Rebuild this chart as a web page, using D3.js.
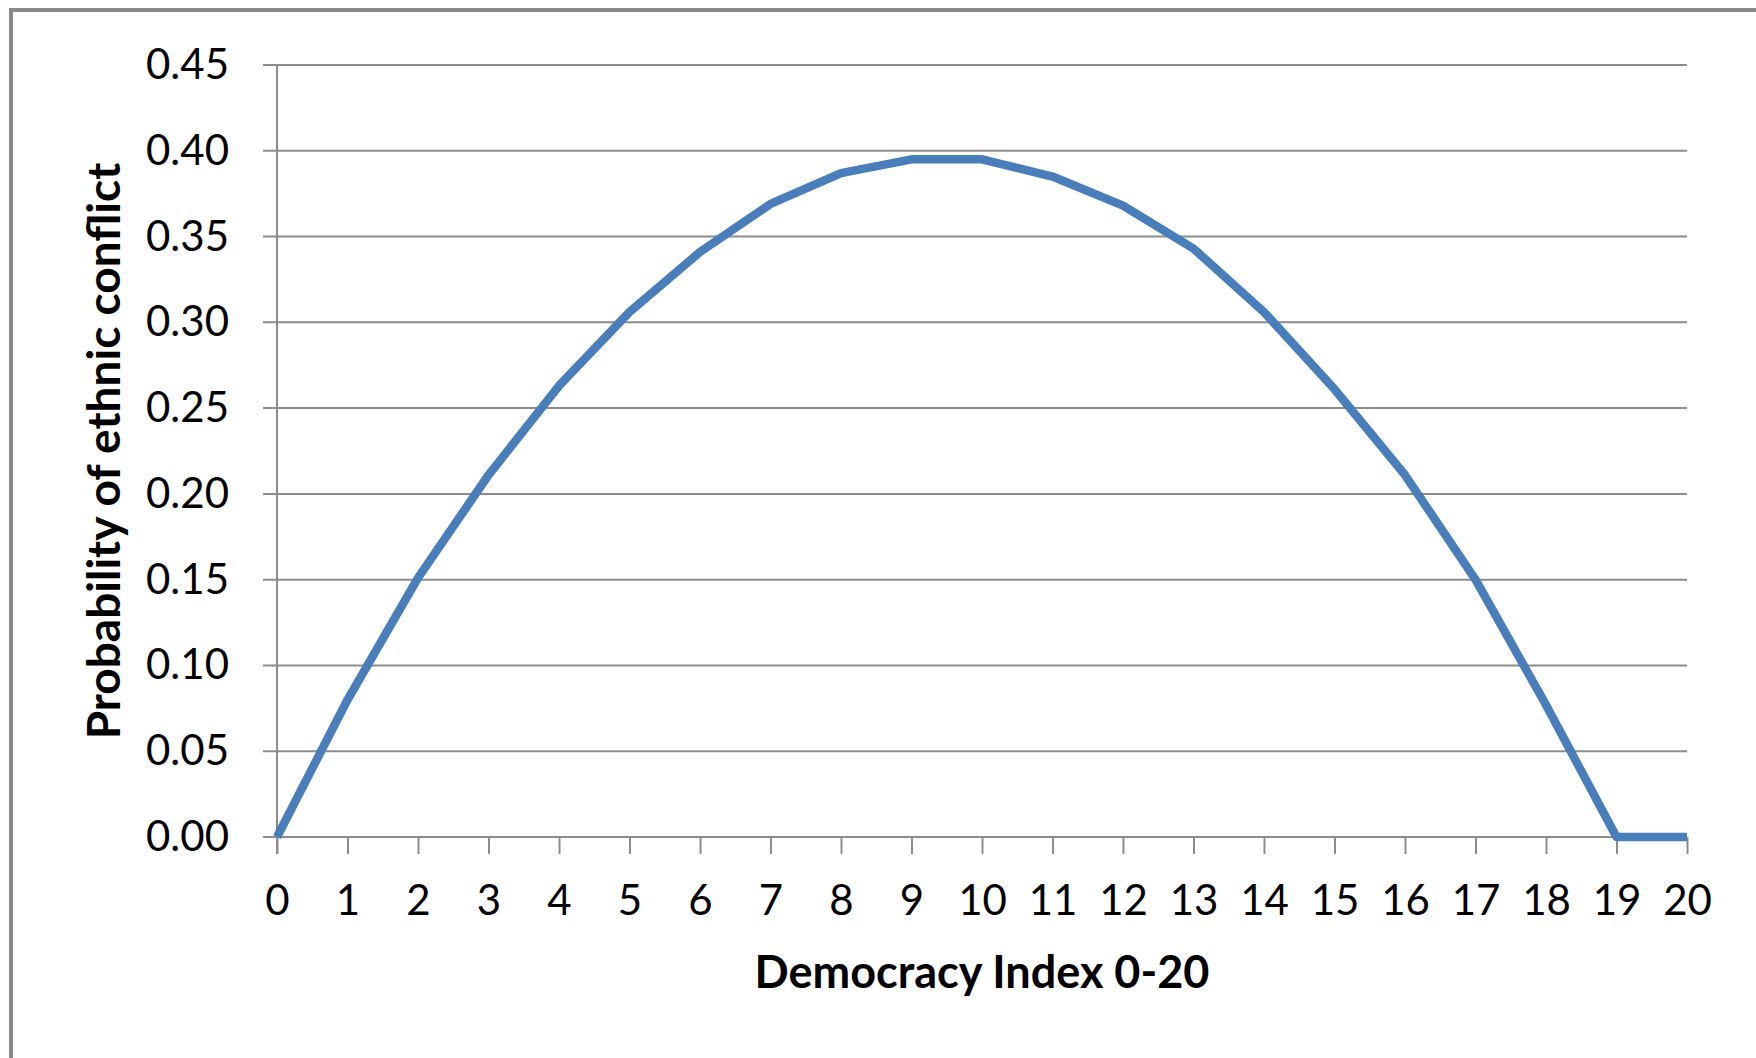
<!DOCTYPE html>
<html>
<head>
<meta charset="utf-8">
<script src="https://cdn.jsdelivr.net/npm/d3@7"></script>
<style>
  body { margin: 0; background: #fff; }
  text { font-family: Lato, "Noto Sans", sans-serif; fill: #000; }
</style>
</head>
<body>
<div id="chart"></div>
<script>
// democracy index 0-20
var xCats = [0, 1, 2, 3, 4, 5, 6, 7, 8, 9, 10, 11, 12, 13, 14, 15, 16, 17, 18, 19, 20];
// probability of ethnic conflict
var probValues = [0, 0.080, 0.151, 0.211, 0.263, 0.306, 0.341, 0.369, 0.387, 0.395, 0.395,
                  0.385, 0.368, 0.343, 0.306, 0.261, 0.211, 0.150, 0.077, 0, 0];
var yTicks = [0, 0.05, 0.10, 0.15, 0.20, 0.25, 0.30, 0.35, 0.40, 0.45];

var xTitle = "Democracy Index 0-20";
var yTitle = "Probability of ethnic conflict";

var W = 1756, H = 1058;
var margin = {top: 65, right: 69, bottom: 221, left: 277};
var width = W - margin.left - margin.right,
    height = H - margin.top - margin.bottom;

var svg = d3.select("#chart")
  .append("svg")
  .attr("width", W)
  .attr("height", H);

svg.append("rect")
  .attr("width", W).attr("height", H)
  .attr("fill", "#fff");

// outer frame, only top and left edge are in view
svg.append("rect")
  .attr("x", 11).attr("y", 10)
  .attr("width", W + 50).attr("height", H + 50)
  .attr("fill", "none")
  .attr("stroke", "#8a8a8a")
  .attr("stroke-width", 4);

var g = svg.append("g")
  .attr("transform", "translate(" + margin.left + "," + margin.top + ")");

var x = d3.scaleLinear().domain([0, 20]).range([0, width]);
var y = d3.scaleLinear().domain([0, 0.45]).range([height, 0]);

// horizontal gridlines (with the small tick to the left of the axis)
g.append("g")
  .selectAll("line")
  .data(yTicks)
  .enter()
  .append("line")
    .attr("x1", -14)
    .attr("x2", width)
    .attr("y1", function(d) { return y(d); })
    .attr("y2", function(d) { return y(d); })
    .attr("stroke", "#8c8c8c")
    .attr("stroke-width", 2);

// vertical axis line
g.append("line")
  .attr("x1", x(0)).attr("x2", x(0))
  .attr("y1", y(0.45)).attr("y2", height + 17)
  .attr("stroke", "#8c8c8c")
  .attr("stroke-width", 2);

// X axis
var xAxis = g.append("g")
  .attr("transform", "translate(0," + height + ")")
  .call(d3.axisBottom(x).tickValues(xCats).tickSize(17).tickPadding(31).tickFormat(d3.format("d")));
xAxis.select(".domain").remove();
xAxis.selectAll("line").attr("stroke", "#8c8c8c").attr("stroke-width", 2);
xAxis.selectAll("text")
  .style("font-size", "42px")
  .style("font-family", "Lato, 'Noto Sans', sans-serif")
  .attr("fill", "#000");

// Y axis labels
var yAxis = g.append("g")
  .call(d3.axisLeft(y).tickValues(yTicks).tickSize(0).tickPadding(48).tickFormat(d3.format(".2f")));
yAxis.select(".domain").remove();
yAxis.selectAll("text")
  .style("font-size", "42px")
  .style("font-family", "Lato, 'Noto Sans', sans-serif")
  .attr("fill", "#000");

// the curve
var line = d3.line()
  .x(function(d, i) { return x(xCats[i]); })
  .y(function(d) { return y(d); });

g.append("path")
  .datum(probValues)
  .attr("d", line)
  .attr("fill", "none")
  .attr("stroke", "#4a7ebb")
  .attr("stroke-width", 8.5)
  .attr("stroke-linejoin", "round")
  .attr("stroke-linecap", "butt");

// axis titles
svg.append("text")
  .attr("x", margin.left + width / 2)
  .attr("y", 988)
  .attr("text-anchor", "middle")
  .style("font-size", "45px")
  .style("font-weight", "bold")
  .text(xTitle);

svg.append("text")
  .attr("transform", "translate(120," + (margin.top + height / 2) + ") rotate(-90)")
  .attr("text-anchor", "middle")
  .style("font-size", "46px")
  .style("font-weight", "bold")
  .text(yTitle);
</script>
</body>
</html>
